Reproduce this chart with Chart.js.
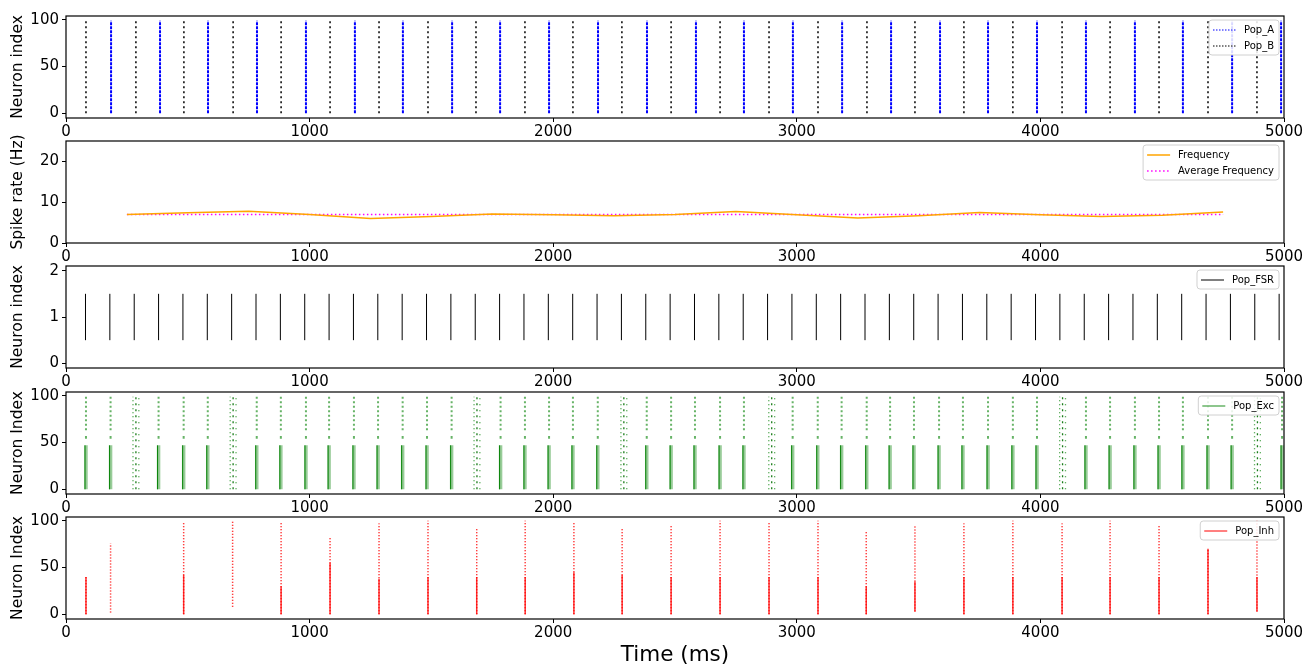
<!DOCTYPE html>
<html>
<head>
<meta charset="utf-8">
<script src="https://cdn.jsdelivr.net/npm/chart.js@4/dist/chart.umd.min.js"></script>
<style>
body { margin:0; background:#fff; width:1313px; height:665px; overflow:hidden; position:relative; }
canvas { position:absolute; left:0; }
</style>
</head>
<body>
<canvas id="c1" width="1313" height="135" style="top:4px"></canvas>
<canvas id="c2" width="1313" height="135" style="top:129px"></canvas>
<canvas id="c3" width="1313" height="135" style="top:254px"></canvas>
<canvas id="c4" width="1313" height="135" style="top:380px"></canvas>
<canvas id="c5" width="1313" height="163" style="top:505px"></canvas>
<script>
//______________________________________________________
// data (times in ms)
var XTicks = [0, 1000, 2000, 3000, 4000, 5000];

var PopATimes = [185, 386, 583, 784, 985, 1186, 1383, 1585, 1782, 1983, 2184, 2385, 2586,
                 2783, 2984, 3186, 3387, 3588, 3785, 3986, 4187, 4388, 4585, 4787, 4988];
var PopBTimes = [82, 287, 484, 686, 883, 1084, 1285, 1486, 1683, 1884, 2081, 2282, 2484,
                 2685, 2886, 3087, 3288, 3485, 3686, 3887, 4089, 4286, 4487, 4688, 4889];
var PopRange  = [0, 99];

var FreqTimes  = [250, 500, 750, 1000, 1250, 1500, 1750, 2000, 2250, 2500, 2750, 3000, 3250,
                  3500, 3750, 4000, 4250, 4500, 4750];
var FreqValues = [7.0, 7.4, 7.8, 7.0, 6.0, 6.5, 7.1, 6.9, 6.7, 7.0, 7.7, 6.9, 6.1,
                  6.7, 7.5, 6.9, 6.5, 6.8, 7.6];
var AvgFreqValues = [7.0, 7.0, 7.0, 7.0, 7.0, 7.0, 7.0, 7.0, 7.0, 7.0, 7.0, 7.0, 7.0,
                     7.0, 7.0, 7.0, 7.0, 7.0, 7.0];

var FsrTimes = [80, 180, 280, 380, 480, 580, 680, 780, 880, 980, 1080, 1180, 1280, 1380, 1480,
                1580, 1680, 1780, 1880, 1980, 2080, 2180, 2280, 2380, 2480, 2580, 2680, 2780,
                2880, 2980, 3080, 3180, 3280, 3380, 3480, 3580, 3680, 3780, 3880, 3980, 4080,
                4180, 4280, 4380, 4480, 4580, 4680, 4780, 4880, 4980];
var FsrRange = [0.5, 1.5];

var ExcTimes = [82, 183, 380, 483, 582, 783, 882, 985, 1080, 1182, 1281, 1382, 1482, 1583,
                1784, 1884, 1983, 2081, 2183, 2384, 2484, 2582, 2685, 2783, 2983, 3086, 3184,
                3287, 3383, 3481, 3584, 3682, 3785, 3887, 3986, 4187, 4286, 4388, 4487, 4585,
                4688, 4787, 4992];
var ExcBurstTimes = [287, 686, 1687, 2290, 2897, 4091, 4891];
var ExcLowRange  = [0, 47];
var ExcDotRange  = [54, 57];
var ExcHighRange = [63, 99];
var ExcBurstRange = [0, 99];

var InhTimes = [82, 183, 483, 684, 883, 1084, 1285, 1486, 1686, 1885, 2085, 2283, 2484,
                2685, 2886, 3087, 3285, 3485, 3686, 3887, 4089, 4286, 4487, 4688, 4889];
var InhLow   = [0, 2, 0, 8, 0, 0, 0, 0, 0, 0, 0, 0, 0,
                0, 0, 0, 0, 3, 0, 0, 0, 0, 0, 0, 3];
var InhHigh  = [40, 76, 98, 100, 98, 83, 97, 100, 92, 100, 98, 93, 95,
                100, 98, 100, 88, 95, 97, 100, 97, 100, 95, 70, 100];
var InhDense = [40, 2, 42, 8, 30, 55, 38, 40, 40, 40, 45, 42, 40,
                40, 40, 40, 30, 35, 40, 40, 40, 40, 40, 70, 40];

//______________________________________________________
Chart.defaults.font.family = '"DejaVu Sans", sans-serif';
Chart.defaults.color = '#000';

// vertical segments with gaps between them
function segs(times, lo, hi, shift) {
    var pts = [];
    times.forEach(function(t, i) {
        var a = Array.isArray(lo) ? lo[i] : lo;
        var b = Array.isArray(hi) ? hi[i] : hi;
        var x = t + (shift || 0);
        pts.push({x: x, y: a}, {x: x, y: b}, {x: x, y: null});
    });
    return pts;
}

function lineSet(data, color, width, dash) {
    return { data: data, showLine: true, spanGaps: false, pointRadius: 0,
             borderColor: color, borderWidth: width, borderDash: dash || [], fill: false };
}

// axes frame + matplotlib style legend inside the plot
var mplFrame = {
    id: 'mplFrame',
    afterDatasetsDraw: function(chart, args, opts) {
        var ctx = chart.ctx, a = chart.chartArea;
        ctx.save();
        ctx.strokeStyle = '#000';
        ctx.lineWidth = 1.2;
        ctx.strokeRect(a.left, a.top, a.right - a.left, a.bottom - a.top);
        var items = opts.items || [];
        if (items.length) {
            ctx.font = '10px "DejaVu Sans"';
            var tw = Math.max.apply(null, items.map(function(it) { return ctx.measureText(it.label).width; }));
            var w = tw + 40, h = items.length * 16 + 3;
            var x0 = a.right - 5 - w, y0 = a.top + 4;
            ctx.beginPath();
            ctx.roundRect(x0, y0, w, h, 3);
            ctx.fillStyle = 'rgba(255,255,255,0.85)';
            ctx.fill();
            ctx.strokeStyle = '#d0d0d0';
            ctx.lineWidth = 1;
            ctx.stroke();
            items.forEach(function(it, i) {
                var y = y0 + 10 + i * 16;
                ctx.beginPath();
                ctx.setLineDash(it.dash || []);
                ctx.strokeStyle = it.color;
                ctx.lineWidth = it.width;
                ctx.moveTo(x0 + 4, y);
                ctx.lineTo(x0 + 27, y);
                ctx.stroke();
                ctx.setLineDash([]);
                ctx.fillStyle = '#000';
                ctx.textBaseline = 'middle';
                ctx.fillText(it.label, x0 + 35, y);
            });
        }
        ctx.restore();
    }
};
Chart.register(mplFrame);

function panelOpts(yMin, yMax, yTicks, yTitle, items, last) {
    return {
        responsive: false, animation: false, events: [],
        layout: { padding: { top: 10, right: 29, left: 0, bottom: 0 } },
        plugins: { legend: { display: false }, tooltip: { enabled: false }, mplFrame: { items: items } },
        scales: {
            x: {
                type: 'linear', min: 0, max: 5000,
                afterBuildTicks: function(s) { s.ticks = XTicks.map(function(v) { return {value: v}; }); },
                afterFit: function(s) { s.height = last ? 49 : 21; },
                grid: { drawOnChartArea: false, drawTicks: true, tickLength: 4, color: '#000' },
                border: { display: false },
                ticks: { font: { size: 15 }, padding: 1, maxRotation: 0, autoSkip: false,
                         callback: function(v) { return String(v); } },
                title: { display: !!last, text: 'Time (ms)', font: { size: 21.5 }, padding: 0 }
            },
            y: {
                type: 'linear', min: yMin, max: yMax,
                afterBuildTicks: function(s) { s.ticks = yTicks.map(function(v) { return {value: v}; }); },
                afterFit: function(s) { s.width = 66; },
                grid: { drawOnChartArea: false, drawTicks: true, tickLength: 4, color: '#000' },
                border: { display: false },
                ticks: { font: { size: 15 }, padding: 3, callback: function(v) { return String(v); } },
                title: { display: true, text: yTitle, font: { size: 15.5 }, padding: { top: 9, bottom: 0 } }
            }
        }
    };
}

//______________________________________________________
new Chart('c1', {
    type: 'scatter',
    data: { datasets: [
        lineSet(segs(PopBTimes, PopRange[0], PopRange[1]), '#000000', 1.5, [2, 3]),
        lineSet(segs(PopATimes, PopRange[0], PopRange[1]), '#0000ff', 2, [3, 1])
    ]},
    options: panelOpts(-5, 104, [0, 50, 100], 'Neuron index', [
        {label: 'Pop_A', color: '#0000ff', width: 1, dash: [1.5, 1.5]},
        {label: 'Pop_B', color: '#000000', width: 1, dash: [1.5, 1.5]}
    ])
});

new Chart('c2', {
    type: 'scatter',
    data: { datasets: [
        lineSet(FreqTimes.map(function(t, i) { return {x: t, y: FreqValues[i]}; }), '#ffa500', 1.5),
        lineSet(FreqTimes.map(function(t, i) { return {x: t, y: AvgFreqValues[i]}; }), '#ff00ff', 1.5, [1.5, 2.5])
    ]},
    options: panelOpts(0, 25, [0, 10, 20], 'Spike rate (Hz)', [
        {label: 'Frequency', color: '#ffa500', width: 1.5},
        {label: 'Average Frequency', color: '#ff00ff', width: 1.5, dash: [1.5, 2.5]}
    ])
});

new Chart('c3', {
    type: 'scatter',
    data: { datasets: [
        lineSet(segs(FsrTimes, FsrRange[0], FsrRange[1]), '#000000', 1)
    ]},
    options: panelOpts(-0.1, 2.1, [0, 1, 2], 'Neuron index', [
        {label: 'Pop_FSR', color: '#000000', width: 1}
    ])
});

new Chart('c4', {
    type: 'scatter',
    data: { datasets: [
        lineSet(segs(ExcTimes, ExcLowRange[0], ExcLowRange[1]), 'rgba(0,128,0,0.4)', 3.5),
        lineSet(segs(ExcTimes, ExcLowRange[0], ExcLowRange[1], -4), '#008000', 1),
        lineSet(segs(ExcTimes, ExcDotRange[0], ExcDotRange[1]), 'rgba(0,128,0,0.6)', 2),
        lineSet(segs(ExcTimes, ExcHighRange[0], ExcHighRange[1]), 'rgba(0,128,0,0.6)', 2, [2, 2.5]),
        lineSet(segs(ExcBurstTimes, ExcBurstRange[0], ExcBurstRange[1], -12), 'rgba(0,128,0,0.8)', 1.3, [1, 3]),
        lineSet(segs(ExcBurstTimes, ExcBurstRange[0], ExcBurstRange[1], 0), 'rgba(0,110,0,0.9)', 1.3, [2, 4]),
        lineSet(segs(ExcBurstTimes, ExcBurstRange[0], ExcBurstRange[1], 12), 'rgba(0,128,0,0.8)', 1.3, [1, 5])
    ]},
    options: panelOpts(-5, 104, [0, 50, 100], 'Neuron Index', [
        {label: 'Pop_Exc', color: 'rgba(0,128,0,0.6)', width: 1.5}
    ])
});

new Chart('c5', {
    type: 'scatter',
    data: { datasets: [
        lineSet(segs(InhTimes, InhLow, InhHigh), '#ff0000', 1.5, [1, 2]),
        lineSet(segs(InhTimes, InhLow, InhDense), 'rgba(255,0,0,0.8)', 1.5)
    ]},
    options: panelOpts(-5, 104, [0, 50, 100], 'Neuron Index', [
        {label: 'Pop_Inh', color: '#ff0000', width: 1}
    ], true)
});
</script>
</body>
</html>
